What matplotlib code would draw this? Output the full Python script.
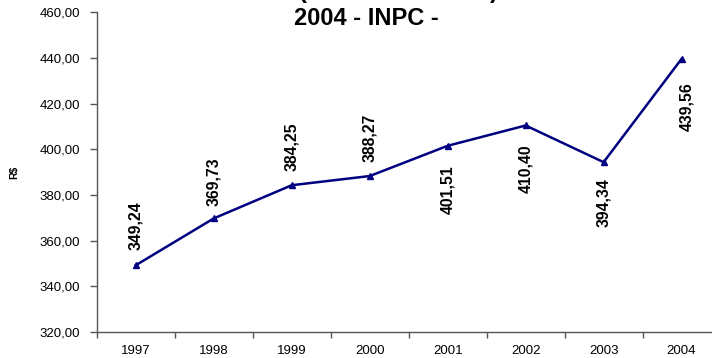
import matplotlib.pyplot as plt

plt.rcParams['font.family'] = ['Liberation Sans', 'DejaVu Sans']

anos = ['1997', '1998', '1999', '2000', '2001', '2002', '2003', '2004']
valores = [349.24, 369.73, 384.25, 388.27, 401.51, 410.40, 394.34, 439.56]

# deslocamento dos rótulos (pontos): positivo acima, negativo abaixo
desloc = [(0, 11), (0, 9), (0, 10), (0, 10),
          (0, -14), (0, -13.5), (0, -11.5), (4, -16.5)]


def fmt(v):
    return f'{v:.2f}'.replace('.', ',')


fig = plt.figure(figsize=(7.12, 3.58), dpi=100)
# a área do gráfico continua além da borda direita
ax = fig.add_axes([0.136, 0.0726, 0.876, 0.8934])

x = list(range(len(anos)))
ax.plot(x, valores, color='#000080', lw=1.8, marker='^', ms=4,
        markerfacecolor='#000080', markeredgecolor='#000080', clip_on=False)

for xi, v, d in zip(x, valores, desloc):
    ax.annotate(fmt(v), (xi, v), xytext=d, textcoords='offset points',
                ha='center', va='bottom' if d[1] > 0 else 'top', rotation=90,
                fontsize=11.3, fontweight='bold')

ax.set_xlim(-0.5, len(anos) - 0.5)
ax.set_ylim(320, 460)
ax.set_yticks(range(320, 461, 20))
ax.set_yticklabels([fmt(t) for t in range(320, 461, 20)])
ax.set_xticks(x)
ax.set_xticklabels(anos)
ax.set_xticks([i - 0.5 for i in range(len(anos) + 1)], minor=True)

ax.tick_params(axis='y', direction='out', length=5, width=1, color='#555555',
               labelsize=9.5, pad=7)
ax.tick_params(axis='x', which='major', length=0, labelsize=9.5, pad=9)
ax.tick_params(axis='x', which='minor', direction='out', length=4, width=1,
               color='#555555')

for s in ['top', 'right']:
    ax.spines[s].set_visible(False)
for s in ['left', 'bottom']:
    ax.spines[s].set_color('#555555')
    ax.spines[s].set_linewidth(1)

ax.set_ylabel('R$', fontsize=7.5, fontweight='bold', labelpad=15)

fig.text(0.514, 0.947, '2004 - INPC -', ha='center', va='center',
         fontsize=17, fontweight='bold')
fig.text(0.426, 0.9916, '(', ha='center', va='bottom', fontsize=17, fontweight='bold')
fig.text(0.693, 0.9916, ')', ha='center', va='bottom', fontsize=17, fontweight='bold')

fig.savefig('out.png', dpi=100)
